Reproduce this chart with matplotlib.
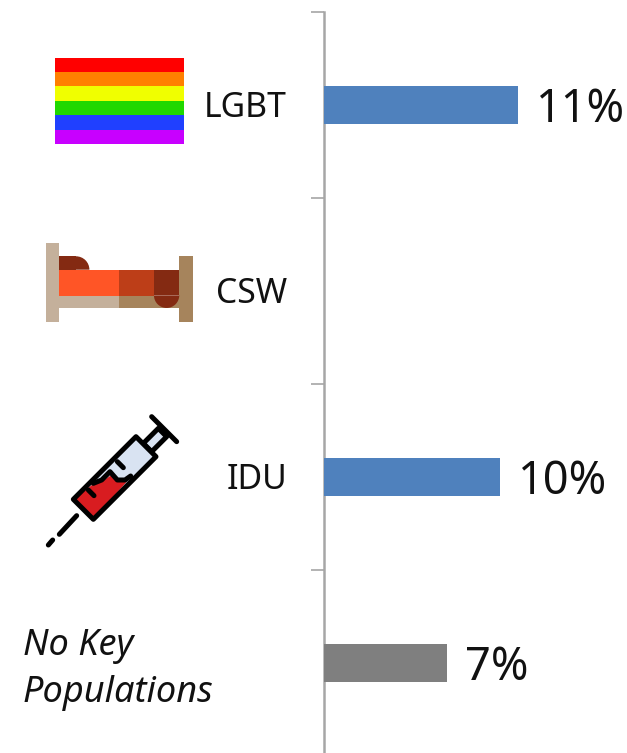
import matplotlib
matplotlib.use('Agg')
import matplotlib.pyplot as plt
import numpy as np
from matplotlib.patches import Rectangle, Polygon, Wedge

plt.rcParams['font.family'] = ['Noto Sans', 'DejaVu Sans']

# chart data
categories = ['LGBT', 'CSW', 'IDU', 'No Key\nPopulations']
values = [11, 0, 10, 7]
value_labels = ['11%', '', '10%', '7%']
bar_colors = ['#4f81bd', '#4f81bd', '#4f81bd', '#7f7f7f']
flag_colors = ['#ff0000', '#ff8000', '#f0ff00', '#20d800', '#2040ff', '#c800ff']

W, H = 627, 753
fig = plt.figure(figsize=(W/100, H/100), dpi=100)

# bar axes, placed in pixels: zero line at x=324, top of the axis at y=12
ax = fig.add_axes([324/W, 0, (W-324)/W, (H-12)/H])
ax.set_xlim(0, (W-324)/17.6)
ax.set_ylim((H-12)/186-0.5, -0.5)
ax.patch.set_alpha(0)
ax.barh(range(len(values)), values, height=0.2, color=bar_colors, zorder=3)
for s in ['top', 'right', 'bottom']:
    ax.spines[s].set_visible(False)
ax.spines['left'].set_color('#a6a6a6')
ax.spines['left'].set_linewidth(1.8)
ax.set_xticks([])
ax.set_yticks(np.arange(-0.5, 3.5, 1))
ax.set_yticklabels([])
ax.tick_params(axis='y', length=9.4, width=1.2, color='#a6a6a6')

for ii in range(len(values)):
    ax.annotate(value_labels[ii], (values[ii], ii), xytext=(18, 0), textcoords='offset pixels',
                fontsize=32.5, va='center_baseline', ha='left', color='#111111')

# category labels
for ii in range(3):
    ax.annotate(categories[ii], (0, ii), xytext=(-37, 1), textcoords='offset pixels',
                fontsize=24.3, va='center_baseline', ha='right', color='#111111')

# overlay in pixel coordinates for the italic label and the icons
ov = fig.add_axes([0, 0, 1, 1], zorder=-1)
ov.set_xlim(0, W)
ov.set_ylim(H, 0)
ov.axis('off')
ov.text(23, 669.5, categories[3], fontsize=26, style='italic', va='center', ha='left',
        color='#111111', linespacing=1.38)

# rainbow flag
fx0, fx1, fy0, fy1 = 55.3, 184, 57.7, 144
dy = (fy1-fy0)/len(flag_colors)
for ii, c in enumerate(flag_colors):
    ov.add_patch(Rectangle((fx0, fy0+ii*dy), fx1-fx0, dy, color=c, lw=0))

# bed
def box(x0, x1, y0, y1, c):
    ov.add_patch(Rectangle((x0, y0), x1-x0, y1-y0, color=c, lw=0))

box(45.7, 59, 243, 321.7, '#c4b09b')
box(59, 119.3, 295.7, 308.3, '#c4b09b')
box(119.3, 179.3, 295.7, 308.3, '#a6845c')
box(179.3, 193.3, 256.3, 321.7, '#a6845c')
box(59, 119.3, 269.7, 295.7, '#ff5526')
box(119.3, 154, 269.7, 295.7, '#bd3e18')
box(154, 179.3, 269.7, 295.3, '#842a12')
ov.add_patch(Wedge((166.6, 295.3), 12.65, 0, 180, color='#842a12', lw=0))
box(59, 76, 256.3, 269.7, '#842a12')
ov.add_patch(Wedge((76, 269.7), 13.4, 270, 360, color='#842a12', lw=0))

def sp(pts):
    return [(30+x/3, 400+y/3) for x, y in pts]

lw = 3.6
ov.add_patch(Polygon(sp([(340, 130), (385, 85), (410, 110), (365, 155)]), fc='#d9e3f2', ec='k', lw=lw, joinstyle='round'))
ov.add_patch(Polygon(sp([(130, 298), (190, 358), (378, 170), (318, 110)]), fc='#d9e3f2', ec='none'))
ov.add_patch(Polygon(sp([(130, 298), (190, 358), (302, 232), (285, 240), (265, 245), (245, 225), (215, 245), (190, 252)]),
                     fc='#d81c20', ec='none'))
ov.add_patch(Polygon(sp([(130, 298), (190, 358), (378, 170), (318, 110)]), fc='none', ec='k', lw=lw, joinstyle='round'))
for seg in ([(365, 50), (440, 125)], [(140, 347), (88, 403)], [(68, 420), (55, 435)],
            [(175, 270), (192, 287)], [(262, 185), (280, 203)],
            [(190, 250), (215, 240), (240, 215), (262, 240), (285, 240), (302, 228)]):
    xy = np.array(sp(seg))
    ov.plot(xy[:, 0], xy[:, 1], color='k', lw=lw, solid_capstyle='round', solid_joinstyle='round')

plt.savefig('out.png', dpi=100)
